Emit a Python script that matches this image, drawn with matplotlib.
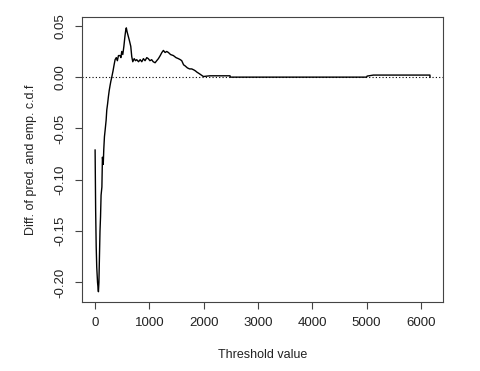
import numpy as np
import matplotlib.pyplot as plt

plt.rcParams['font.family'] = ['Liberation Sans', 'DejaVu Sans']

threshold = [0, 2, 10, 20, 30, 45, 61, 70, 80, 90, 100, 110, 125, 135, 150, 160, 172, 184,
             203, 215, 230, 245, 260, 276, 290, 307, 330, 350, 368, 390, 410, 430, 460,
             475, 491, 510, 530, 550, 565, 575, 590, 610, 630, 657, 675, 694, 720, 745,
             767, 800, 830, 860, 890, 920, 952, 980, 1010, 1042, 1070, 1105, 1135, 1166,
             1200, 1230, 1258, 1290, 1320, 1350, 1390, 1442, 1490, 1534, 1570, 1596,
             1630, 1657, 1700, 1740, 1780, 1820, 1850, 1872, 1930, 1995, 2060, 2118,
             2300, 2486, 2490, 3000, 4000, 5003, 5010, 5126, 5600, 6169, 6170]
diff = [-0.071, -0.083, -0.130, -0.165, -0.185, -0.200, -0.209, -0.200, -0.175, -0.150,
        -0.136, -0.115, -0.107, -0.078, -0.085, -0.070, -0.058, -0.052,
        -0.042, -0.032, -0.026, -0.019, -0.013, -0.008, -0.004, 0.000, 0.006, 0.012,
        0.017, 0.019, 0.016, 0.021, 0.021, 0.019, 0.025, 0.022, 0.030, 0.040, 0.046,
        0.048, 0.044, 0.040, 0.036, 0.030, 0.020, 0.015, 0.018, 0.016,
        0.017, 0.015, 0.017, 0.015, 0.018, 0.016, 0.019, 0.018, 0.016, 0.017, 0.015,
        0.014, 0.016, 0.018, 0.021, 0.024, 0.026, 0.024, 0.025, 0.024, 0.022,
        0.021, 0.019, 0.018, 0.017, 0.016, 0.012, 0.011, 0.009, 0.008, 0.008,
        0.007, 0.006, 0.005, 0.003, 0.0006, 0.001, 0.0013,
        0.0013, 0.0013, 0.0, 0.0, 0.0, 0.0, 0.001, 0.002, 0.002, 0.002, 0.0]

xticks = [0, 1000, 2000, 3000, 4000, 5000, 6000]
yticks = [-0.20, -0.15, -0.10, -0.05, 0.00, 0.05]

fig = plt.figure(figsize=(4.8, 3.71), dpi=100)
ax = fig.add_axes([0.171, 0.186, 0.752, 0.768])

ax.plot(threshold, diff, color='black', lw=1.0)
ax.axhline(0, color='black', lw=0.8, linestyle=(0, (1, 2)))

ax.set_xlim(-240, 6410)
ax.set_ylim(-0.219, 0.0585)
ax.set_xticks(xticks)
ax.set_xticklabels([str(t) for t in xticks])
ax.set_yticks(yticks)
ax.set_yticklabels(['%.2f' % t for t in yticks], rotation=90, va='center')

for s in ax.spines.values():
    s.set_color('#444444')
    s.set_linewidth(0.8)
ax.tick_params(direction='out', length=5, width=0.8, color='#444444',
               labelsize=9.5, labelcolor='#222222', pad=6)

ax.set_xlabel('Threshold value', fontsize=9, color='#222222', labelpad=14)
ax.set_ylabel('Diff. of pred. and emp. c.d.f', fontsize=9, color='#222222', labelpad=13)

fig.savefig('out.png', dpi=100)
